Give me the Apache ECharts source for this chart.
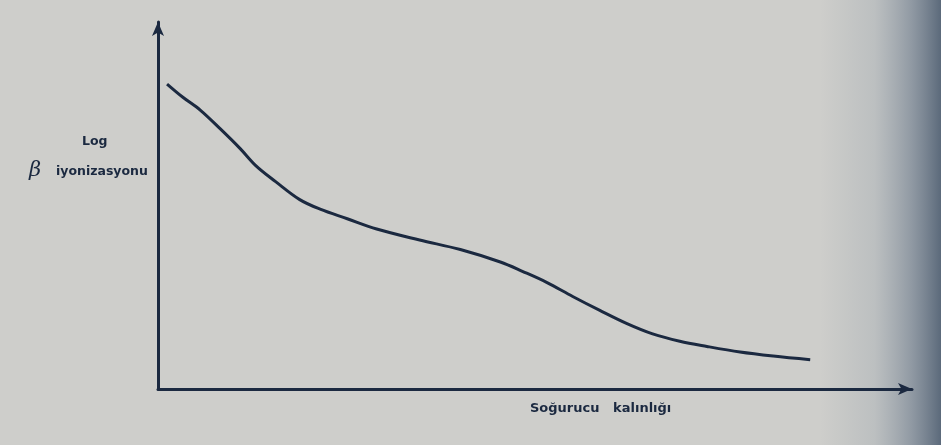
<!DOCTYPE html>
<html>
<head>
<meta charset="utf-8">
<script src="https://cdn.jsdelivr.net/npm/echarts@6/dist/echarts.min.js"></script>
<style>
  html, body { margin: 0; padding: 0; background: #cececb; }
  #chart { width: 941px; height: 445px; }
</style>
</head>
<body>
<div id="chart"></div>
<script>
// Absorber thickness (arbitrary units) and log of beta ionisation (arbitrary units)
const thickness = [1.2, 3.3, 5.6, 8.2, 10.9, 13.0, 15.6, 18.8, 21.5, 25.1, 29.0, 34.7, 40.1,
                   45.4, 48.4, 51.6, 55.0, 58.6, 62.2, 65.6, 69.2, 72.8, 77.2, 81.6, 86.5];
const logIonisation = [83.1, 79.5, 76.0, 71.0, 65.5, 60.8, 56.5, 51.6, 49.0, 46.4, 43.6, 40.6, 38.0,
                       34.6, 32.0, 29.0, 25.2, 21.4, 17.8, 15.0, 13.0, 11.6, 10.1, 9.0, 8.0];
const yLabelTop = 'Log';
const yLabelBottom = 'iyonizasyonu';
const yLabelSymbol = 'β';
const xLabel = 'Soğurucu   kalınlığı';

const ink = '#1b2940';
const chart = echarts.init(document.getElementById('chart'));

chart.setOption({
  backgroundColor: '#cececb',
  animation: false,
  grid: { left: 158, right: 29, top: 22, bottom: 56 },
  xAxis: {
    type: 'value', min: 0, max: 100,
    axisLine: { show: true, symbol: ['none', 'arrow'], symbolSize: [9, 14],
                lineStyle: { color: ink, width: 3 } },
    axisTick: { show: false }, axisLabel: { show: false }, splitLine: { show: false }
  },
  yAxis: {
    type: 'value', min: 0, max: 100,
    axisLine: { show: true, symbol: ['none', 'arrow'], symbolSize: [9, 14],
                lineStyle: { color: ink, width: 3 } },
    axisTick: { show: false }, axisLabel: { show: false }, splitLine: { show: false }
  },
  graphic: [
    {
      // shadow along the right-hand edge of the sheet
      type: 'rect', z: -1, silent: true,
      shape: { x: 820, y: 0, width: 121, height: 445 },
      style: {
        fill: new echarts.graphic.LinearGradient(0, 0, 1, 0, [
          { offset: 0, color: 'rgba(125,140,155,0)' },
          { offset: 0.45, color: 'rgba(125,140,155,0.22)' },
          { offset: 0.75, color: 'rgba(105,120,138,0.6)' },
          { offset: 1, color: 'rgba(85,100,118,0.95)' }
        ])
      }
    },
    {
      type: 'text', left: 82, top: 135,
      style: { text: yLabelTop, font: 'bold 12.5px "DejaVu Sans"', fill: ink }
    },
    {
      type: 'text', left: 29, top: 160,
      style: { text: yLabelSymbol, font: 'italic 21px "DejaVu Serif"', fill: ink }
    },
    {
      type: 'text', left: 56, top: 165,
      style: { text: yLabelBottom, font: 'bold 12.5px "DejaVu Sans"', fill: ink }
    },
    {
      type: 'text', left: 530, top: 402,
      style: { text: xLabel, font: 'bold 13px "DejaVu Sans"', fill: ink }
    }
  ],
  series: [{
    type: 'line',
    data: thickness.map((t, i) => [t, logIonisation[i]]),
    smooth: 0.35,
    showSymbol: false,
    lineStyle: { color: ink, width: 3 }
  }]
});
</script>
</body>
</html>
